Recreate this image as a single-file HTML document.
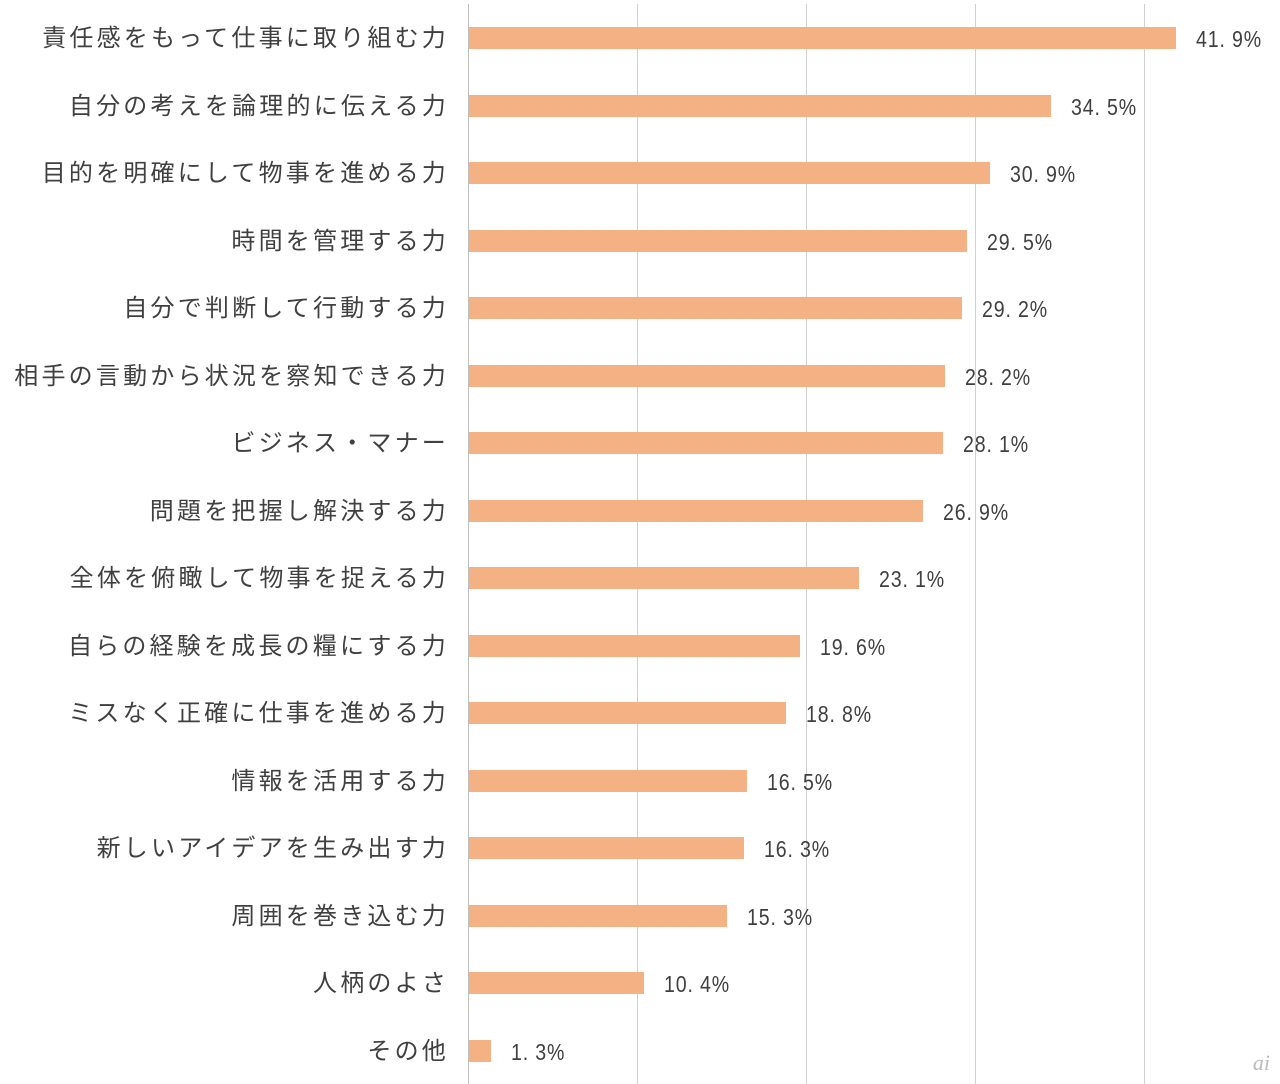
<!DOCTYPE html>
<html><head><meta charset="utf-8"><style>
body{margin:0;width:1280px;height:1084px;background:#fff;position:relative;overflow:hidden;font-family:"Liberation Sans","Noto Sans CJK JP",sans-serif;color:#404040}
.g{position:absolute;top:4px;bottom:0;width:1px;background:#d0d0d0}
.b{position:absolute;left:469px;height:22px;background:#F4B183}
.l{position:absolute;right:831px;font-size:24px;line-height:28px;white-space:nowrap;letter-spacing:3.2px}
.v{position:absolute;font-size:23px;line-height:28px;white-space:nowrap;letter-spacing:1px;font-family:"Liberation Sans",sans-serif;transform:scaleX(0.85);transform-origin:left}
</style></head><body>
<div class="g" style="left:468px;background:#bfbfbf"></div>
<div class="g" style="left:637px"></div>
<div class="g" style="left:806px"></div>
<div class="g" style="left:975px"></div>
<div class="g" style="left:1144px"></div>
<div id="c"></div>
<div style="position:absolute;right:10px;bottom:8px;font-size:22px;font-style:italic;color:#bbb;font-family:'Liberation Serif',serif">ai</div>
<script>
var d=[["責任感をもって仕事に取り組む力",41.9],["自分の考えを論理的に伝える力",34.5],["目的を明確にして物事を進める力",30.9],["時間を管理する力",29.5],["自分で判断して行動する力",29.2],["相手の言動から状況を察知できる力",28.2],["ビジネス・マナー",28.1],["問題を把握し解決する力",26.9],["全体を俯瞰して物事を捉える力",23.1],["自らの経験を成長の糧にする力",19.6],["ミスなく正確に仕事を進める力",18.8],["情報を活用する力",16.5],["新しいアイデアを生み出す力",16.3],["周囲を巻き込む力",15.3],["人柄のよさ",10.4],["その他",1.3]];
var h="";
d.forEach(function(r,i){var y=38+i*67.5;var w=r[1]*16.87;
h+='<div class="l" style="top:'+(y-13)+'px">'+r[0]+'</div>';
h+='<div class="b" style="top:'+(y-11)+'px;width:'+w+'px"></div>';
h+='<div class="v" style="top:'+(y-13)+'px;left:'+(469+w+20)+'px">'+r[1].toFixed(1).replace('.','. ')+'%</div>';});
document.getElementById("c").innerHTML=h;
</script>
</body></html>
